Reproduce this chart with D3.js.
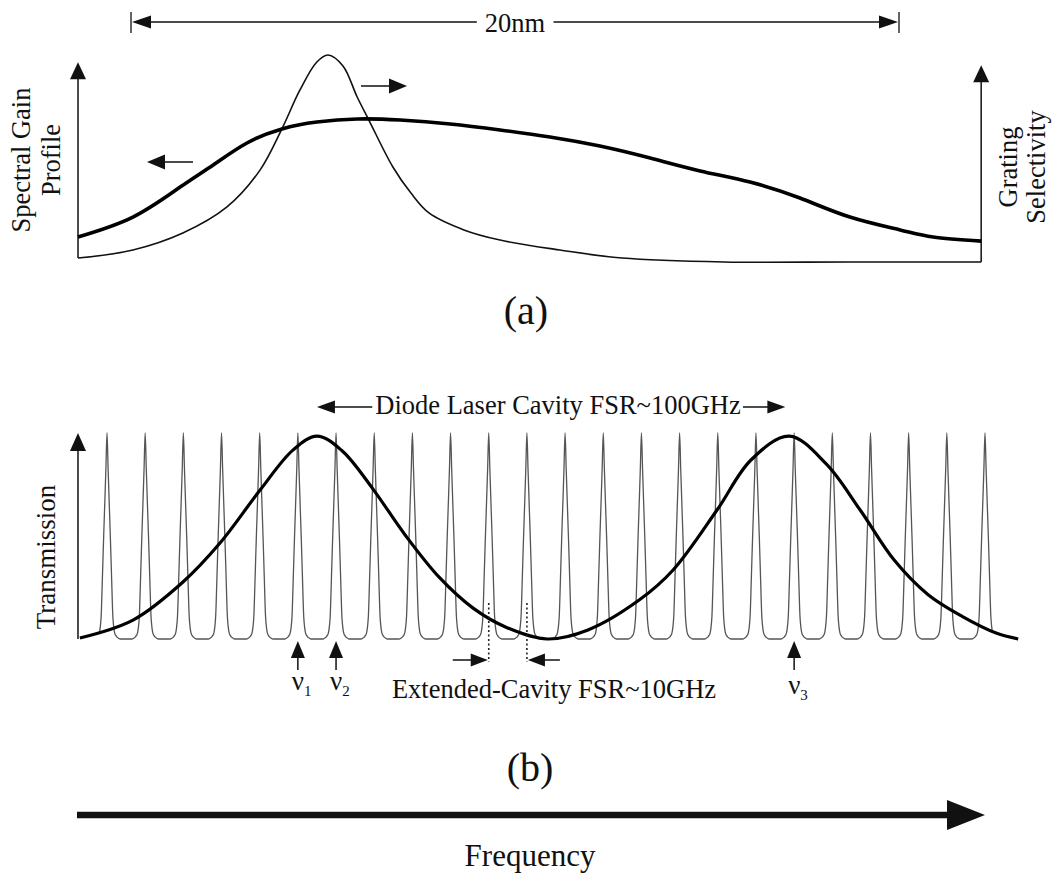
<!DOCTYPE html>
<html>
<head>
<meta charset="utf-8">
<script src="https://cdn.jsdelivr.net/npm/d3@7"></script>
<style>
  html, body { margin: 0; padding: 0; background: #fff; }
  svg { display: block; }
  text { font-family: "Liberation Serif", "Times New Roman", serif; fill: #111; }
</style>
</head>
<body>
<svg id="chart" width="1053" height="878"></svg>
<script>
// ---------- Panel (a): wavelength offset (nm) ----------
const gainNm      = [-1.38, 0.05, 1.28, 2.14, 3.02, 3.93, 4.84, 5.89, 7.01, 8.31, 9.61, 10.91, 12.21, 13.52, 14.82, 16.12, 17.42, 18.72, 20.03, 20.89, 22.14];
const gainLevel   = [0.121, 0.217, 0.362, 0.469, 0.575, 0.643, 0.676, 0.691, 0.686, 0.667, 0.638, 0.604, 0.560, 0.502, 0.440, 0.386, 0.309, 0.217, 0.155, 0.121, 0.101];
const gratingNm    = [-1.38, 0.05, 1.35, 2.50, 3.36, 3.93, 4.40, 4.84, 5.13, 5.52, 5.89, 6.22, 6.82, 7.29, 7.76, 8.67, 9.61, 11.17, 12.79, 15.44, 18.72, 22.14];
const gratingLevel = [0.019, 0.058, 0.140, 0.266, 0.444, 0.643, 0.831, 0.966, 1.000, 0.947, 0.797, 0.676, 0.459, 0.333, 0.237, 0.155, 0.106, 0.058, 0.019, 0.000, 0.000, 0.000];
const spanNm = [0, 20];
const spanLabel = "20nm";
const axisTopA = 0.96;

// ---------- Panel (b): frequency (GHz) ----------
const combPeaksGHz = [0, 10, 20, 30, 40, 50, 60, 70, 80, 90, 100, 110, 120, 130, 140, 150, 160, 170, 180, 190, 200, 210, 220, 230];
// one transmission fringe, offset from its peak (GHz)
const fringeOffsetGHz = [0, 0.3, 0.6, 0.87, 1.2, 1.53, 1.75, 2.0, 2.5, 3.0, 3.5, 5.0];
const fringeLevel     = [1.0, 0.82, 0.65, 0.5, 0.3, 0.11, 0.06, 0.03, 0.012, 0.004, 0, 0];
const fringeEdgeGHz = 2.0;
const envelopeGHz   = [-7.1, 6.8, 19.9, 29.6, 40.1, 48.7, 55.0, 61.5, 69.4, 78.1, 87.0, 95.9, 104.8, 115.3, 126.0, 139.4, 148.3, 159.8, 168.7, 178.7, 188.4, 197.3, 206.2, 215.1, 224.0, 232.9, 238.7];
const envelopeLevel = [0.005, 0.092, 0.277, 0.466, 0.723, 0.917, 0.985, 0.915, 0.735, 0.505, 0.300, 0.150, 0.055, 0.0, 0.044, 0.189, 0.335, 0.626, 0.869, 0.985, 0.850, 0.626, 0.383, 0.215, 0.110, 0.029, 0.0];
const diodeFsrSpanGHz = [55.0, 177.7];
const diodeFsrLabel = "Diode Laser Cavity FSR~100GHz";
const extendedFsrGHz = [100, 110];
const extendedFsrLabel = "Extended-Cavity FSR~10GHz";
const modeLabels = ["1", "2", "3"];
const modeGHz = [50, 60, 180];
const axisStartGHz = -7.6;

const svg = d3.select("#chart");

// ---------- helpers ----------
function arrowHead(g, tipX, tipY, dir, len, half) {
  let pts;
  if (dir === "right") pts = [[tipX, tipY], [tipX - len, tipY - half], [tipX - len, tipY + half]];
  else if (dir === "left") pts = [[tipX, tipY], [tipX + len, tipY - half], [tipX + len, tipY + half]];
  else if (dir === "up") pts = [[tipX, tipY], [tipX - half, tipY + len], [tipX + half, tipY + len]];
  else pts = [[tipX, tipY], [tipX - half, tipY - len], [tipX + half, tipY - len]];
  g.append("path").attr("d", "M" + pts.map(p => p.join(",")).join("L") + "Z").attr("fill", "#111");
}
function hLine(g, x1, x2, y, w) {
  g.append("line").attr("x1", x1).attr("x2", x2).attr("y1", y).attr("y2", y)
    .attr("stroke", "#111").attr("stroke-width", w);
}
function vLine(g, x, y1, y2, w) {
  g.append("line").attr("x1", x).attr("x2", x).attr("y1", y1).attr("y2", y2)
    .attr("stroke", "#111").attr("stroke-width", w);
}

// ================= Panel (a) =================
const xA = d3.scaleLinear().domain(spanNm).range([131, 899]);
const yA = d3.scaleLinear().domain([0, 1]).range([262, 55]);
const gA = svg.append("g");

// 20 nm span bracket
const spanY = 22;
vLine(gA, xA(spanNm[0]), 12, 33, 1.3);
vLine(gA, xA(spanNm[1]), 12, 33, 1.3);
const spanText = gA.append("text")
  .attr("x", (xA(spanNm[0]) + xA(spanNm[1])) / 2).attr("y", 32)
  .attr("text-anchor", "middle").attr("font-size", 26.5).text(spanLabel);
const sb = spanText.node().getBBox();
hLine(gA, xA(spanNm[0]) + 10, sb.x - 8, spanY, 1.3);
hLine(gA, sb.x + sb.width + 8, xA(spanNm[1]) - 10, spanY, 1.3);
arrowHead(gA, xA(spanNm[0]) + 1, spanY, "left", 19, 6.5);
arrowHead(gA, xA(spanNm[1]) - 1, spanY, "right", 19, 6.5);

// axes
const leftAx = xA(gainNm[0]);
const rightAx = xA(gainNm[gainNm.length - 1]);
vLine(gA, leftAx, yA(gratingLevel[0]), yA(axisTopA) + 14, 1.5);
arrowHead(gA, leftAx, yA(axisTopA) - 1, "up", 17, 8);
vLine(gA, rightAx, yA(gratingLevel[gratingLevel.length - 1]), yA(axisTopA) + 14, 1.5);
arrowHead(gA, rightAx, yA(axisTopA) + 2, "up", 17, 8);

// curves: grating selectivity (thin) and spectral gain (thick)
const thinLine = d3.line().x(d => xA(d[0])).y(d => yA(d[1])).curve(d3.curveCatmullRom.alpha(0.5));
const gainLine = d3.line().x(d => xA(d[0])).y(d => yA(d[1])).curve(d3.curveNatural);
gA.append("path").datum(d3.zip(gratingNm, gratingLevel)).attr("d", thinLine)
  .attr("fill", "none").attr("stroke", "#111").attr("stroke-width", 1.6);
gA.append("path").datum(d3.zip(gainNm, gainLevel)).attr("d", gainLine)
  .attr("fill", "none").attr("stroke", "#000").attr("stroke-width", 3.6);

// pointer arrows to each axis
hLine(gA, 160, 193, 162, 1.5);
arrowHead(gA, 147, 162, "left", 18, 7.5);
hLine(gA, 361, 393, 86, 1.5);
arrowHead(gA, 407, 86, "right", 18, 7.5);

// axis titles
gA.append("text").attr("transform", "translate(30,160) rotate(-90)")
  .attr("text-anchor", "middle").attr("font-size", 26.5).text("Spectral Gain");
gA.append("text").attr("transform", "translate(60,160) rotate(-90)")
  .attr("text-anchor", "middle").attr("font-size", 26.5).text("Profile");
gA.append("text").attr("transform", "translate(1017,167) rotate(-90)")
  .attr("text-anchor", "middle").attr("font-size", 26.5).text("Grating");
gA.append("text").attr("transform", "translate(1045,167) rotate(-90)")
  .attr("text-anchor", "middle").attr("font-size", 26.5).text("Selectivity");

gA.append("text").attr("x", 526).attr("y", 324).attr("text-anchor", "middle")
  .attr("font-size", 40).text("(a)");

// ================= Panel (b) =================
const xB = d3.scaleLinear().domain([combPeaksGHz[0], combPeaksGHz[combPeaksGHz.length - 1]]).range([107, 985]);
const yB = d3.scaleLinear().domain([0, 1]).range([639, 433]);
const gB = svg.append("g");

// axis
const axB = xB(axisStartGHz);
vLine(gB, axB, yB(0), yB(1) + 14, 1.5);
arrowHead(gB, axB, yB(1), "up", 18, 8);

// extended-cavity transmission comb: one fringe repeated at every cavity mode
const combPts = [];
const firstPeak = combPeaksGHz[0], lastPeak = combPeaksGHz[combPeaksGHz.length - 1];
combPeaksGHz.forEach(c => {
  for (let i = fringeOffsetGHz.length - 1; i > 0; i--) combPts.push([c - fringeOffsetGHz[i], fringeLevel[i]]);
  for (let i = 0; i < fringeOffsetGHz.length; i++) combPts.push([c + fringeOffsetGHz[i], fringeLevel[i]]);
});
const combSorted = combPts
  .filter(p => p[0] >= firstPeak - fringeEdgeGHz && p[0] <= lastPeak + fringeEdgeGHz)
  .sort((a, b) => a[0] - b[0])
  .filter((p, i, arr) => i === 0 || p[0] - arr[i - 1][0] > 1e-6);
const combLine = d3.line().x(d => xB(d[0])).y(d => yB(d[1])).curve(d3.curveMonotoneX);
gB.append("path").datum(combSorted).attr("d", combLine)
  .attr("fill", "none").attr("stroke", "#555").attr("stroke-width", 1.3);

// diode-laser cavity envelope
const envLine = d3.line().x(d => xB(d[0])).y(d => yB(d[1])).curve(d3.curveCatmullRom.alpha(0.5));
gB.append("path").datum(d3.zip(envelopeGHz, envelopeLevel)).attr("d", envLine)
  .attr("fill", "none").attr("stroke", "#000").attr("stroke-width", 3.2);

// diode FSR annotation
const dText = gB.append("text").attr("x", 558).attr("y", 414).attr("text-anchor", "middle")
  .attr("font-size", 26.5).text(diodeFsrLabel);
const db = dText.node().getBBox();
const dy = 407;
hLine(gB, xB(diodeFsrSpanGHz[0]) + 10, db.x - 3, dy, 1.5);
arrowHead(gB, xB(diodeFsrSpanGHz[0]), dy, "left", 18, 6.5);
hLine(gB, db.x + db.width + 2, xB(diodeFsrSpanGHz[1]) - 10, dy, 1.5);
arrowHead(gB, xB(diodeFsrSpanGHz[1]), dy, "right", 18, 6.5);

// extended-cavity FSR markers
extendedFsrGHz.forEach(f => {
  gB.append("line").attr("x1", xB(f)).attr("x2", xB(f))
    .attr("y1", yB(0.175)).attr("y2", 662)
    .attr("stroke", "#222").attr("stroke-width", 1.6).attr("stroke-dasharray", "2,2.5");
});
const ey = 660;
hLine(gB, xB(extendedFsrGHz[0]) - 36, xB(extendedFsrGHz[0]) - 10, ey, 1.5);
arrowHead(gB, xB(extendedFsrGHz[0]) - 1, ey, "right", 17, 6.5);
hLine(gB, xB(extendedFsrGHz[1]) + 10, xB(extendedFsrGHz[1]) + 33, ey, 1.5);
arrowHead(gB, xB(extendedFsrGHz[1]) + 1, ey, "left", 17, 6.5);
gB.append("text").attr("x", 554).attr("y", 698).attr("text-anchor", "middle")
  .attr("font-size", 26.5).text(extendedFsrLabel);

// lasing mode markers
modeGHz.forEach((f, i) => {
  const x = xB(f);
  vLine(gB, x, 655, 670, 1.5);
  arrowHead(gB, x, 641, "up", 17, 7);
  const t = gB.append("text").attr("x", x - 6).attr("y", i < 2 ? 690 : 694).attr("font-size", 27);
  t.append("tspan").text("\u03BD");
  t.append("tspan").attr("font-size", 15).attr("dy", 6).text(modeLabels[i]);
});

gB.append("text").attr("transform", "translate(55,557) rotate(-90)")
  .attr("text-anchor", "middle").attr("font-size", 27).text("Transmission");

gB.append("text").attr("x", 530).attr("y", 781).attr("text-anchor", "middle")
  .attr("font-size", 40).text("(b)");

// ================= Frequency axis =================
const gF = svg.append("g");
const fy = 815;
hLine(gF, xB(axisStartGHz) - 1, xB(lastPeak) - 34, fy, 6.5);
arrowHead(gF, xB(lastPeak), fy, "right", 38, 15);
gF.append("text").attr("x", 530).attr("y", 866).attr("text-anchor", "middle")
  .attr("font-size", 31).text("Frequency");
</script>
</body>
</html>
